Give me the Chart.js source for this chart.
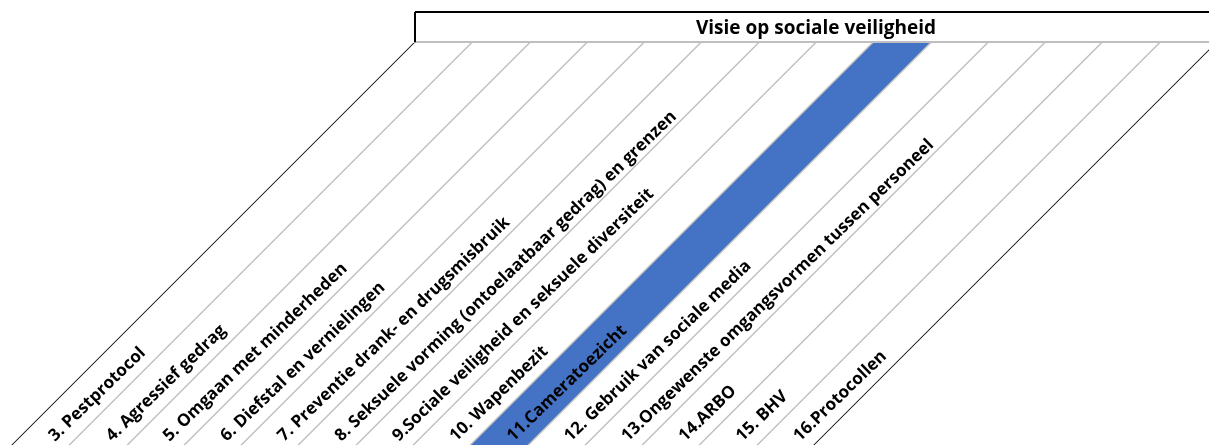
<!DOCTYPE html>
<html>
<head>
<meta charset="utf-8">
<script src="https://cdn.jsdelivr.net/npm/chart.js@4/dist/chart.umd.min.js"></script>
<style>
  html, body { margin: 0; padding: 0; background: #fff; overflow: hidden; width: 1209px; height: 445px; }
  #wrap { position: absolute; left: 0; top: 0; width: 1240px; height: 445px; }
</style>
</head>
<body>
<div id="wrap"><canvas id="c" width="1240" height="445"></canvas></div>
<script>
const chartTitle = "Visie op sociale veiligheid";
const categories = [
  "3. Pestprotocol",
  "4. Agressief gedrag",
  "5. Omgaan met minderheden",
  "6. Diefstal en vernielingen",
  "7. Preventie drank- en drugsmisbruik",
  "8. Seksuele vorming (ontoelaatbaar gedrag) en grenzen",
  "9.Sociale veiligheid en seksuele diversiteit",
  "10. Wapenbezit",
  "11.Cameratoezicht",
  "12. Gebruik van sociale media",
  "13.Ongewenste omgangsvormen tussen personeel",
  "14.ARBO",
  "15. BHV",
  "16.Protocollen"
];
const highlightValues = [0, 0, 0, 0, 0, 0, 0, 0, 1, 0, 0, 0, 0, 0];

const FONT = '"Open Sans", "Liberation Sans", sans-serif';
const SHEAR = 1; // 45 degrees

const shearPlugin = {
  id: 'shear',
  beforeDatasetsDraw(chart) {
    const ctx = chart.ctx;
    const top = chart.chartArea.top;
    ctx.save();
    ctx.transform(1, 0, -SHEAR, 1, SHEAR * top, 0);
  },
  afterDraw(chart) {
    const ctx = chart.ctx;
    ctx.restore();
    const area = chart.chartArea;
    const xs = chart.scales.x;
    // header box lines
    const tb = chart.titleBlock;
    ctx.save();
    ctx.strokeStyle = '#000';
    ctx.lineWidth = 2;
    ctx.beginPath();
    ctx.moveTo(tb.left, tb.top);
    ctx.lineTo(tb.right + 30, tb.top);
    ctx.moveTo(tb.left, tb.top);
    ctx.lineTo(tb.left, area.top);
    ctx.stroke();
    ctx.restore();
    // rotated category labels
    const yb = area.bottom - 3;
    ctx.save();
    ctx.font = 'bold 17px ' + FONT;
    ctx.fillStyle = '#000';
    ctx.textAlign = 'left';
    ctx.textBaseline = 'alphabetic';
    categories.forEach((lab, i) => {
      const x = xs.getPixelForValue(i) - SHEAR * (yb - area.top) + 11;
      ctx.save();
      ctx.translate(x, yb);
      ctx.rotate(-44 * Math.PI / 180);
      ctx.fillText(lab, 0, 0);
      ctx.restore();
    });
    ctx.restore();
  }
};

new Chart(document.getElementById('c'), {
  type: 'bar',
  data: {
    labels: categories,
    datasets: [{
      data: highlightValues.map(v => v || null),
      backgroundColor: '#4472C4',
      borderWidth: 0,
      barPercentage: 1,
      categoryPercentage: 1
    }]
  },
  options: {
    responsive: false,
    animation: false,
    devicePixelRatio: 1,
    layout: { padding: { left: 415, right: 23, top: 12, bottom: 0 } },
    plugins: {
      legend: { display: false },
      tooltip: { enabled: false },
      title: {
        display: true,
        text: chartTitle,
        color: '#000',
        font: { family: FONT, size: 19, weight: 'bold', lineHeight: 1.2 },
        padding: { top: 5, bottom: 2.5 }
      }
    },
    scales: {
      x: {
        position: 'top',
        ticks: { display: false },
        grid: {
          z: 1,
          drawTicks: false,
          offset: true,
          color: (c) => (c.index === 0 || c.index === undefined) ? '#000' : '#BFBFBF',
          lineWidth: (c) => (c.index === 0 || c.index === undefined) ? 1.2 : 2
        },
        border: { display: true, color: '#BFBFBF', width: 2, z: 1 }
      },
      y: {
        display: false,
        min: 0,
        max: 1
      }
    }
  },
  plugins: [shearPlugin]
});
</script>
</body>
</html>
